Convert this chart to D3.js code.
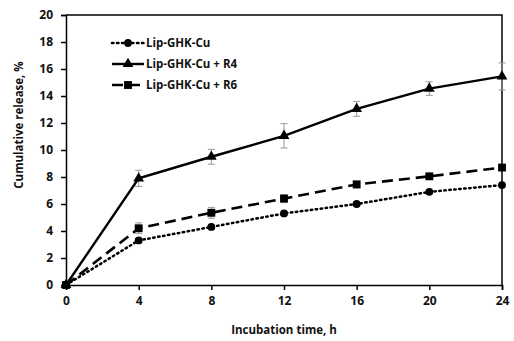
<!DOCTYPE html>
<html>
<head>
<meta charset="utf-8">
<script src="https://cdn.jsdelivr.net/npm/d3@7"></script>
<style>
  body { margin: 0; background: #fff; }
  svg text { font-family: "Open Sans", "Liberation Sans", sans-serif; font-weight: 700; fill: #111; }
</style>
</head>
<body>
<div id="chart"></div>
<script>
const hours = [0, 4, 8, 12, 16, 20, 24];
const xTicks = [0, 4, 8, 12, 16, 20, 24];
const yTicks = [0, 2, 4, 6, 8, 10, 12, 14, 16, 18, 20];

const lipValues = [0, 3.3, 4.3, 5.3, 6.0, 6.9, 7.4];
const lipErrors = [0, 0.15, 0.15, 0.15, 0.15, 0.15, 0.15];
const r4Values = [0, 7.9, 9.5, 11.05, 13.05, 14.55, 15.45];
const r4Errors = [0, 0.6, 0.55, 0.9, 0.55, 0.5, 1.0];
const r6Values = [0, 4.2, 5.35, 6.4, 7.45, 8.05, 8.7];
const r6Errors = [0, 0.4, 0.4, 0.3, 0.25, 0.2, 0.2];

const seriesNames = ["Lip-GHK-Cu", "Lip-GHK-Cu + R4", "Lip-GHK-Cu + R6"];

const width = 514, height = 341;
const margin = { top: 15, right: 12, bottom: 56, left: 66 };

const svg = d3.select("#chart").append("svg")
  .attr("width", width).attr("height", height);

const x = d3.scaleLinear().domain([0, 24]).range([margin.left, width - margin.right]);
const y = d3.scaleLinear().domain([0, 20]).range([height - margin.bottom, margin.top]);

const series = [
  { name: seriesNames[0], values: lipValues, errors: lipErrors, dash: "1.5,3.5", width: 2.5, cap: "round", marker: "circle" },
  { name: seriesNames[1], values: r4Values, errors: r4Errors, dash: null, width: 2.4, cap: "butt", marker: "triangle" },
  { name: seriesNames[2], values: r6Values, errors: r6Errors, dash: "11,6", width: 2.6, cap: "butt", marker: "square" },
];

// frame (top + right)
svg.append("path")
  .attr("d", `M${x(0)},${y(20)}H${x(24)}V${y(0)}`)
  .attr("fill", "none").attr("stroke", "#000").attr("stroke-width", 1.5);

// axes
const xAxis = svg.append("g")
  .attr("transform", `translate(0,${y(0)})`)
  .call(d3.axisBottom(x).tickValues(xTicks).tickSize(5).tickPadding(6));
const yAxis = svg.append("g")
  .attr("transform", `translate(${x(0)},0)`)
  .call(d3.axisLeft(y).tickValues(yTicks).tickSize(5).tickPadding(8));

[xAxis, yAxis].forEach((g) => {
  g.select(".domain").attr("stroke", "#000").attr("stroke-width", 1.5);
  g.selectAll(".tick line").attr("stroke", "#000").attr("stroke-width", 1.5);
  g.selectAll(".tick text").attr("font-size", "12px").attr("fill", "#111");
});

const symbolFor = {
  circle: d3.symbol().type(d3.symbolCircle).size(48),
  triangle: d3.symbol().type(d3.symbolTriangle).size(50),
  square: d3.symbol().type(d3.symbolSquare).size(62),
};

// error bars
series.forEach((s) => {
  const g = svg.append("g").attr("stroke", "#999").attr("stroke-width", 1);
  hours.forEach((h, i) => {
    if (!s.errors[i]) return;
    const cx = x(h), top = y(s.values[i] + s.errors[i]), bot = y(s.values[i] - s.errors[i]);
    g.append("line").attr("x1", cx).attr("x2", cx).attr("y1", top).attr("y2", bot);
    g.append("line").attr("x1", cx - 3.5).attr("x2", cx + 3.5).attr("y1", top).attr("y2", top);
    g.append("line").attr("x1", cx - 3.5).attr("x2", cx + 3.5).attr("y1", bot).attr("y2", bot);
  });
});

// lines + markers
const line = d3.line().x((d, i) => x(hours[i])).y((d) => y(d));
series.forEach((s) => {
  svg.append("path")
    .attr("d", line(s.values))
    .attr("fill", "none").attr("stroke", "#000")
    .attr("stroke-width", s.width)
    .attr("stroke-linecap", s.cap)
    .attr("stroke-dasharray", s.dash);
  svg.append("g").selectAll("path")
    .data(s.values).enter().append("path")
    .attr("transform", (d, i) => `translate(${x(hours[i])},${y(d)})`)
    .attr("d", symbolFor[s.marker]())
    .attr("fill", "#000");
});

// legend
const legend = svg.append("g").attr("transform", "translate(112,43)");
series.forEach((s, i) => {
  const g = legend.append("g").attr("transform", `translate(0,${i * 21})`);
  g.append("line").attr("x1", 0).attr("x2", 32).attr("y1", 0).attr("y2", 0)
    .attr("stroke", "#000").attr("stroke-width", s.width)
    .attr("stroke-linecap", s.cap)
    .attr("stroke-dasharray", s.dash);
  g.append("path").attr("transform", "translate(16,0)")
    .attr("d", symbolFor[s.marker]()).attr("fill", "#000");
  g.append("text").attr("x", 34).attr("y", 4)
    .attr("font-size", "11.5px").text(s.name);
});

// axis titles
svg.append("text")
  .attr("x", (x(0) + x(24)) / 2).attr("y", 334)
  .attr("text-anchor", "middle").attr("font-size", "11.5px")
  .text("Incubation time, h");

svg.append("text")
  .attr("transform", "rotate(-90)")
  .attr("x", -125).attr("y", 23)
  .attr("text-anchor", "middle").attr("font-size", "11.5px")
  .text("Cumulative release, %");
</script>
</body>
</html>
